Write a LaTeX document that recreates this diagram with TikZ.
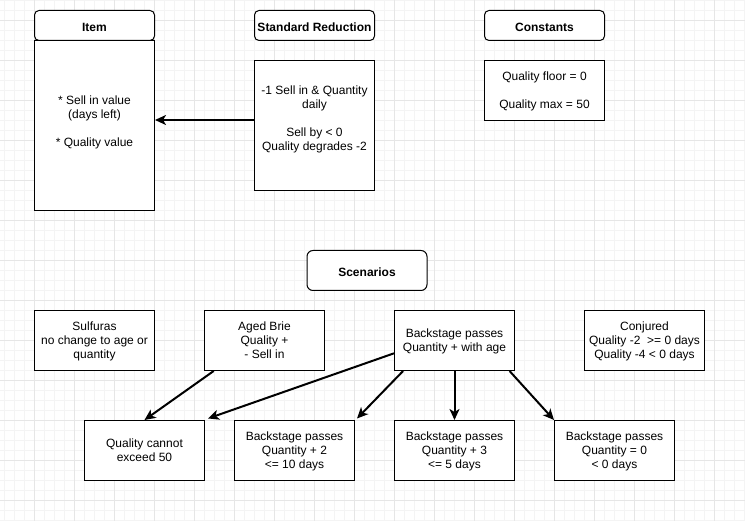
\documentclass[tikz,border=0pt]{standalone}
\usepackage{fontspec}
\setmainfont{Liberation Sans}
\usetikzlibrary{arrows.meta,calc}
\definecolor{gridmaj}{HTML}{E6E6E6}
\definecolor{gridmin}{HTML}{F4F4F4}
\newcommand{\topstrut}{\rule{0pt}{12.3pt}}
\newcommand{\botstrut}{\rule[-0.7pt]{0pt}{0.7pt}}
\tikzset{
  txtnode/.style={align=center,font=\fontsize{12}{14}\selectfont,inner sep=0pt,
    execute at begin node=\topstrut, execute at end node=\botstrut},
  boxnode/.style={txtnode,draw=black,line width=1pt,fill=white,minimum width=120pt},
  headnode/.style={boxnode,minimum height=30pt,rounded corners=4.5pt,font=\fontsize{12}{14}\selectfont\bfseries},
  conn/.style={line width=2pt,-{Stealth[length=11pt,width=10pt,inset=3pt]}},
}
\begin{document}
\begin{tikzpicture}[x=1pt,y=-1pt]
\useasboundingbox (0,0) rectangle (745,521);
\fill[white] (0,0) rectangle (745,521);
% grid
\foreach \x in {4.5,14.5,...,744.5} \draw[gridmin,line width=0.8pt] (\x,0) -- (\x,521);
\foreach \y in {0.5,10.5,...,520.5} \draw[gridmin,line width=0.8pt] (0,\y) -- (745,\y);
\foreach \x in {34.5,74.5,...,714.5} \draw[gridmaj,line width=0.8pt] (\x,0) -- (\x,521);
\foreach \y in {20.5,60.5,...,500.5} \draw[gridmaj,line width=0.8pt] (0,\y) -- (745,\y);

% top row
\node[boxnode,minimum height=170pt] (itemb) at (94.5,125.5) {};
\node[headnode] (itemh) at (94.5,25.5) {Item};
\node[txtnode] (itemt) at (94.5,121.2) {* Sell in value\\(days left)\\[14pt]\smash{* Quality value}};

\node[headnode] (srh) at (314.5,25.5) {Standard Reduction};
\node[boxnode,minimum height=130pt] (srb) at (314.5,125.5) {};
\node[txtnode] (srt) at (314.5,118.9) {-1 Sell in \& Quantity\\daily\\[14pt]Sell by < 0\\\smash{Quality degrades -2}};

\node[headnode] (consth) at (544.5,25.5) {Constants};
\node[boxnode,minimum height=60pt] (constb) at (544.5,90.5) {Quality floor = 0\\[14pt]\smash{Quality max = 50}};

% scenarios
\node[headnode,minimum height=40pt,rounded corners=6pt] (scen) at (367,270.5) {Scenarios};

\node[boxnode,minimum height=60pt] (sulf) at (94.5,340.5) {Sulfuras\\no change to age or\\\smash{quantity}};
\node[boxnode,minimum height=60pt] (brie) at (264.5,340.5) {Aged Brie\\Quality +\\\smash{- Sell in}};
\node[boxnode,minimum height=60pt] (bp) at (454.5,340.5) {Backstage passes\\\smash{Quantity + with age}};
\node[boxnode,minimum height=60pt] (conj) at (644.5,340.5) {Conjured\\Quality -2~~>= 0 days\\\smash{Quality -4 < 0 days}};

\node[boxnode,minimum height=60pt] (qual) at (144.5,450.5) {Quality cannot\\\smash{exceed 50}};
\node[boxnode,minimum height=60pt] (bptwo) at (294.5,450.5) {Backstage passes\\Quantity + 2\\\smash{<= 10 days}};
\node[boxnode,minimum height=60pt] (bpthree) at (454.5,450.5) {Backstage passes\\Quantity + 3\\\smash{<= 5 days}};
\node[boxnode,minimum height=60pt] (bpzero) at (614.5,450.5) {Backstage passes\\Quantity = 0\\\smash{< 0 days}};

% connectors
\coordinate (srout) at ($(srb.north west)!0.458!(srb.south west)$);
\draw[conn] (srout) -- (srout -| itemb.east);
\draw[conn] ($(brie.south west)!0.08!(brie.south east)$) -- (qual.north);
\draw[conn] ($(bp.north west)!0.71!(bp.south west)$) -- ($(qual.north east)+(3,-1.5)$);
\draw[conn] ($(bp.south west)!0.075!(bp.south east)$) -- ($(bptwo.north east)+(2,-1.5)$);
\draw[conn] (bp.south) -- (bpthree.north);
\draw[conn] ($(bp.south west)!0.955!(bp.south east)$) -- (bpzero.north west);
\end{tikzpicture}
\end{document}
